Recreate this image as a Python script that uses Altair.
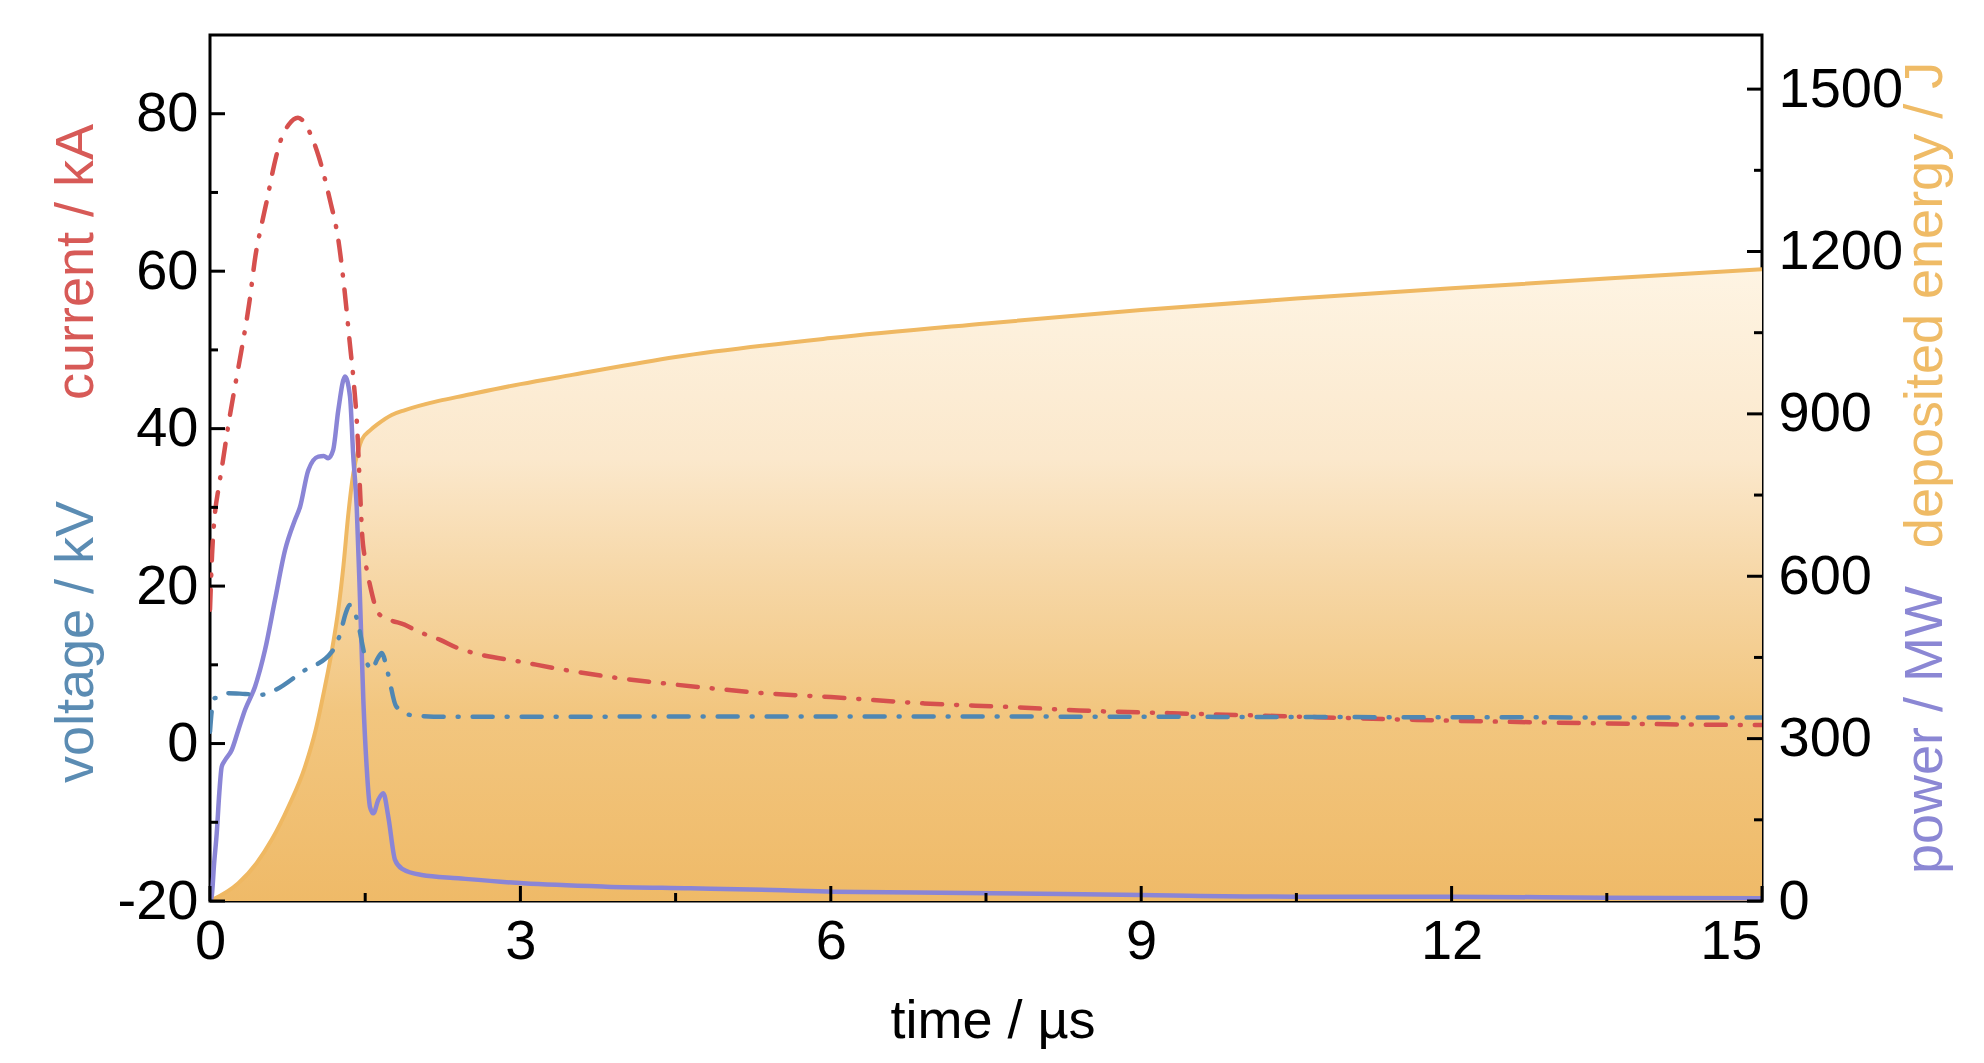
import altair as alt
import pandas as pd

FONT = "Liberation Sans"
W, H = 1552, 866

# ---- data ----
cur_t = [0, 0.02, 0.05, 0.08, 0.12, 0.18, 0.25, 0.31, 0.38, 0.44, 0.5, 0.55, 0.62, 0.68,
         0.76, 0.85, 0.95, 1.05, 1.16, 1.24, 1.3, 1.35, 1.39, 1.42, 1.45, 1.47, 1.5, 1.55,
         1.63, 1.74, 1.88, 2.0, 2.22, 2.4, 2.55, 3.0, 3.45, 3.9, 4.35, 4.86, 5.35, 6.0,
         6.9, 7.8, 8.4, 9.3, 10.3, 10.7, 12.0, 13.4, 14.8, 15.0]
cur_v = [17, 24, 29.5, 32.2, 35.5, 40.7, 46, 50.4, 56, 62, 66, 69, 73.5, 76.5,
         78.6, 79.5, 78, 74.6, 69, 64, 57.6, 51, 45.8, 40.7, 32.2, 26.7, 23.3, 19.9,
         16.5, 15.7, 15.1, 14.3, 13.2, 12.1, 11.5, 10.4, 9.3, 8.4, 7.7, 7.0, 6.4, 5.9,
         5.1, 4.6, 4.2, 3.85, 3.5, 3.35, 2.9, 2.58, 2.36, 2.35]

volt_t = [0, 0.02, 0.05, 0.08, 0.18, 0.34, 0.5, 0.63, 0.89, 1.18, 1.26, 1.31, 1.35, 1.39,
          1.43, 1.5, 1.56, 1.62, 1.66, 1.72, 1.8, 1.95, 2.27, 4.0, 8.0, 10.0, 12.0, 15.0]
volt_v = [1.5, 4.5, 5.8, 5.8, 6.4, 6.3, 6.2, 6.8, 9.1, 11.7, 14.0, 16.5, 17.6, 17.0,
          15.3, 11.0, 9.35, 10.8, 11.5, 8.9, 4.7, 3.6, 3.4, 3.42, 3.42, 3.38, 3.34, 3.3]

pow_t = [0, 0.016, 0.04, 0.065, 0.09, 0.113, 0.145, 0.21, 0.274, 0.338, 0.435, 0.532,
         0.628, 0.725, 0.821, 0.87, 0.95, 1.047, 1.1, 1.143, 1.19, 1.24, 1.305, 1.353,
         1.385, 1.418, 1.45, 1.482, 1.514, 1.546, 1.579, 1.627, 1.675, 1.723, 1.788,
         1.853, 2.046, 2.4, 3.03, 3.83, 4.64, 5.44, 6.02, 7.3, 9.0, 10.5, 12.0, 13.5, 15.0]
pow_v = [0, 8, 70, 125, 200, 248, 260, 279, 316, 353, 396, 464,
         556, 648, 704, 728, 796, 821, 822, 818, 833, 907, 969, 932,
         821, 728, 556, 371, 248, 174, 162, 187, 199, 156, 76,
         60, 48, 42, 32.6, 26.5, 23.4, 20.3, 17.2, 15, 11, 8, 8, 6, 5]

en_t = [0, 0.274, 0.45, 0.596, 0.76, 0.918, 1.02, 1.111, 1.18, 1.24, 1.29, 1.337, 1.385,
        1.433, 1.466, 1.55, 1.627, 1.756, 1.885, 2.21, 2.46, 3.0, 3.5, 4.5, 6.0, 7.5, 9.0,
        10.5, 12.0, 13.5, 15.0]
en_v = [0, 33, 70, 113, 175, 248, 315, 396, 465, 538, 620, 715, 790,
        833, 852, 870, 882, 898, 907, 924, 934, 955, 972, 1005, 1040, 1067, 1092,
        1113, 1132, 1150, 1167]

x_major = [0, 3, 6, 9, 12, 15]
x_minor = [1.5, 4.5, 7.5, 10.5, 13.5]
left_major = [-20, 0, 20, 40, 60, 80]
left_minor = [-10, 10, 30, 50, 70]
right_major = [0, 300, 600, 900, 1200, 1500]
right_minor = [150, 450, 750, 1050, 1350]

titles = {
    "current": "current / kA",
    "voltage": "voltage / kV",
    "energy": "deposited energy / J",
    "power": "power / MW",
    "time": "time / \u00b5s",
}

# ---- colours / styles ----
RED = "#d6504e"
BLUE = "#4f87b3"
PURPLE = "#8a85d6"
ORANGE = "#efb862"
DASHDOT = [20, 14, 1, 14]
LABEL_SIZE = 56
TITLE_SIZE = 54

cur_df = pd.DataFrame({"t": cur_t, "v": cur_v})
volt_df = pd.DataFrame({"t": volt_t, "v": volt_v})
pow_df = pd.DataFrame({"t": pow_t, "v": pow_v})
en_df = pd.DataFrame({"t": en_t, "v": en_v})

xscale = alt.Scale(domain=[0, 15], nice=False, zero=False)
lscale = alt.Scale(domain=[-20, 90], nice=False, zero=False)
rscale = alt.Scale(domain=[0, 1600], nice=False, zero=False)

LABEL_EXPR = "'' + datum.value"

x_axis = alt.Axis(values=x_major, ticks=False, domain=False, grid=False, title=None,
                  labelFontSize=LABEL_SIZE, labelPadding=13, labelFont=FONT, labelColor="black",
                  labelExpr=LABEL_EXPR, labelFlush=False, labelOverlap=False,
                  labelAlign={"condition": {"test": "datum.value == 15", "value": "right"},
                              "value": "center"})
l_axis = alt.Axis(orient="left", values=left_major, ticks=False, domain=False, grid=False,
                  title=None, labelFontSize=LABEL_SIZE, labelPadding=12, labelFont=FONT,
                  labelColor="black", labelExpr=LABEL_EXPR, labelOverlap=False)
r_axis = alt.Axis(orient="right", values=right_major, ticks=False, domain=False, grid=False,
                  title=None, labelFontSize=LABEL_SIZE, labelPadding=16, labelFont=FONT,
                  labelColor="black", labelExpr=LABEL_EXPR, labelOverlap=False)


def X():
    return alt.X("t:Q", scale=xscale, axis=x_axis)


def YL(field="v"):
    return alt.Y(f"{field}:Q", scale=lscale, axis=l_axis)


def YR(field="v"):
    return alt.Y(f"{field}:Q", scale=rscale, axis=r_axis)


gradient = alt.Gradient(
    gradient="linear",
    stops=[
        alt.GradientStop(color="#fef4e3", offset=0),
        alt.GradientStop(color="#fbe8cc", offset=0.3),
        alt.GradientStop(color="#f6d6a4", offset=0.5),
        alt.GradientStop(color="#f2c67f", offset=0.7),
        alt.GradientStop(color="#efba68", offset=1),
    ],
    x1=1, x2=1, y1=0, y2=1,
)

energy_area = alt.Chart(en_df).mark_area(color=gradient, interpolate="monotone", clip=True).encode(
    x=X(), y=YR())
energy_line = alt.Chart(en_df).mark_line(color=ORANGE, strokeWidth=4, interpolate="monotone",
                                         clip=True).encode(x=X(), y=YR())
power_line = alt.Chart(pow_df).mark_line(color=PURPLE, strokeWidth=4.5, interpolate="monotone",
                                         clip=True).encode(x=X(), y=YR())

rmaj_df = pd.DataFrame({"v": right_major})
rmin_df = pd.DataFrame({"v": right_minor})
r_ticks_major = alt.Chart(rmaj_df).mark_rule(color="black", strokeWidth=3).encode(
    y=YR(), x=alt.value(W), x2=alt.value(W - 15))
r_ticks_minor = alt.Chart(rmin_df).mark_rule(color="black", strokeWidth=3).encode(
    y=YR(), x=alt.value(W), x2=alt.value(W - 8))

right_group = alt.layer(energy_area, energy_line, power_line, r_ticks_major, r_ticks_minor)

current_line = alt.Chart(cur_df).mark_line(color=RED, strokeWidth=4.5, strokeDash=DASHDOT,
                                           strokeCap="round", interpolate="monotone",
                                           clip=True).encode(x=X(), y=YL())
voltage_line = alt.Chart(volt_df).mark_line(color=BLUE, strokeWidth=4.5, strokeDash=DASHDOT,
                                            strokeCap="round", interpolate="monotone",
                                            clip=True).encode(x=X(), y=YL())

lmaj_df = pd.DataFrame({"v": left_major})
lmin_df = pd.DataFrame({"v": left_minor})
l_ticks_major = alt.Chart(lmaj_df).mark_rule(color="black", strokeWidth=3).encode(
    y=YL(), x=alt.value(0), x2=alt.value(15))
l_ticks_minor = alt.Chart(lmin_df).mark_rule(color="black", strokeWidth=3).encode(
    y=YL(), x=alt.value(0), x2=alt.value(8))

xmaj_df = pd.DataFrame({"t": x_major})
xmin_df = pd.DataFrame({"t": x_minor})
x_ticks_major = alt.Chart(xmaj_df).mark_rule(color="black", strokeWidth=3).encode(
    x=X(), y=alt.value(H), y2=alt.value(H - 15))
x_ticks_minor = alt.Chart(xmin_df).mark_rule(color="black", strokeWidth=3).encode(
    x=X(), y=alt.value(H), y2=alt.value(H - 8))

one = pd.DataFrame({"k": [0]})


def title_text(text, color, x, y, angle=270):
    return alt.Chart(one).mark_text(
        text=text, color=color, font=FONT, fontSize=TITLE_SIZE, angle=angle,
        align="center", baseline="alphabetic").encode(x=alt.value(x), y=alt.value(y))


t_current = title_text(titles["current"], "#d75a57", -117, 227)
t_voltage = title_text(titles["voltage"], "#5b8cb3", -117, 607)
t_energy = title_text(titles["energy"], "#efbb66", 1732, 270)
t_power = title_text(titles["power"], "#8b87d4", 1732, 695)
t_time = alt.Chart(one).mark_text(
    text=titles["time"], color="black", font=FONT, fontSize=TITLE_SIZE, align="center",
    baseline="alphabetic").encode(x=alt.value(783), y=alt.value(1003))

left_group = alt.layer(current_line, voltage_line, l_ticks_major, l_ticks_minor,
                       x_ticks_major, x_ticks_minor,
                       t_current, t_voltage, t_energy, t_power, t_time)

chart = alt.layer(right_group, left_group).resolve_scale(y="independent").properties(
    width=W, height=H,
    autosize=alt.AutoSizeParams(type="none"),
    padding={"left": 202, "top": 27, "right": 208, "bottom": 150},
    background="white",
).configure_view(stroke="black", strokeWidth=3)

chart.save("out.html", embed_options={"renderer": "svg", "actions": False})
